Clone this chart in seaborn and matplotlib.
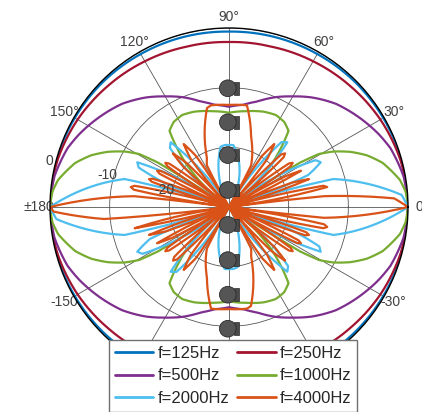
import numpy as np
import pandas as pd
import seaborn as sns
import matplotlib
matplotlib.use("Agg")
import matplotlib.pyplot as plt
from matplotlib.lines import Line2D
from matplotlib.patches import Circle, Rectangle

sns.set_theme(style="white")
plt.rcParams['font.family'] = ['Liberation Sans', 'DejaVu Sans']

# directivity, first quadrant only (deg, dB);
# the pattern is symmetric so the other quadrants are mirrored
ang_125 = [0, 15, 30, 45, 60, 75, 90]
lev_125 = [0, -0.05, -0.15, -0.25, -0.4, -0.5, -0.6]

ang_250 = [0, 15, 30, 45, 60, 75, 90]
lev_250 = [0, -0.2, -0.7, -1.3, -1.8, -2.2, -2.35]

ang_500 = [0, 10, 20, 26, 35, 44, 53, 60, 67, 75, 82, 90]
lev_500 = [0, -0.3, -1.2, -2.1, -3.6, -5.1, -7.0, -8.6, -10.0, -11.7, -12.7, -13.2]

ang_1000 = [0, 5, 9, 16, 20.5, 24.5, 28, 30.5, 32, 33.5, 37, 40, 45, 49, 52, 57, 63, 70, 80, 90]
lev_1000 = [0, -0.3, -1.0, -3.2, -5.3, -7.7, -10.2, -12.5, -16, -30, -30, -25, -20, -16.5,
            -13.8, -13.0, -12.7, -13.0, -13.7, -14.2]

ang_2000 = [0, 4, 8, 11, 13, 15, 16.6, 18,
            19.9, 22, 23.6, 26, 28.4, 30, 32.1, 34,
            38, 40.4, 43, 45, 48, 51, 53, 55.6, 58,
            60, 65, 70, 75, 80, 82, 86, 90]
lev_2000 = [0, -1, -3.9, -6.8, -9.2, -11.9, -15.3, -30,
            -19.4, -15.7, -13.5, -12.9, -13.5, -15.7, -19.4, -30,
            -30, -21.9, -18.2, -16, -15.4, -16, -18.2, -21.9, -30,
            -30, -27, -25.6, -24.2, -21.3, -19.8, -19.6, -19.6]

ang_4000 = [0, 1.5, 3, 4.5, 5.5, 6.5, 7.5,
            8.5, 9.5, 10.3, 11.5, 12.7, 13.5, 14.5, 15.5,
            16.4, 17.4, 18.1, 19.25, 20.4, 21.1, 22.1, 23,
            23.9, 24.9, 25.6, 26.75, 27.9, 28.6, 29.6, 30.5,
            31.5, 32.6, 33.5, 34.75, 36, 36.9, 38, 39,
            40.1, 41.4, 42.3, 43.75, 45.2, 46.1, 47.4, 48.5,
            49.9, 51.4, 52.5, 54.25, 56, 57.1, 58.6, 60,
            62, 66, 70, 72.5, 75, 77.5, 80, 85, 90]
lev_4000 = [0, -0.6, -2.3, -5.5, -9, -14, -30,
            -19.7, -16.0, -13.8, -13.2, -13.8, -16.0, -19.7, -30,
            -22.3, -18.6, -16.4, -15.8, -16.4, -18.6, -22.3, -30,
            -23, -19.3, -17.1, -16.5, -17.1, -19.3, -23, -30,
            -23.5, -19.8, -17.6, -17, -17.6, -19.8, -23.5, -30,
            -23.5, -19.8, -17.6, -17, -17.6, -19.8, -23.5, -30,
            -23.5, -19.8, -17.6, -17, -17.6, -19.8, -23.5, -30,
            -22.1, -20.9, -19.2, -17.7, -15.8, -13.0, -12.7, -12.8, -12.9]

freq_labels = ['f=125Hz', 'f=250Hz', 'f=500Hz', 'f=1000Hz', 'f=2000Hz', 'f=4000Hz']
colors = ['#0072BD', '#A2142F', '#7E2F8E', '#77AC30', '#4DBEEE', '#D95319']

theta_ticks = [0, 30, 60, 90, 120, 150, 180, 210, 240, 270, 300, 330]
theta_labels = ['0', '30°', '60°', '90°', '120°', '150°', '±180', '-150', '', '', '', '-30°']
r_ticks = [-20, -10, 0]

# loudspeaker positions along the vertical axis (dB units above the centre)
speaker_y = [19.9, 14.2, 8.7, 2.85, -3.0, -8.9, -14.7, -20.4]


def full_turn(ang, lev):
      a = np.asarray(ang, dtype=float)
      l = np.asarray(lev, dtype=float)
      th = np.concatenate([a, 180 - a[::-1], 180 + a, 360 - a[::-1]])
      lv = np.concatenate([l, l[::-1], l, l[::-1]])
      return np.deg2rad(th), lv


series = [(ang_125, lev_125), (ang_250, lev_250), (ang_500, lev_500),
          (ang_1000, lev_1000), (ang_2000, lev_2000), (ang_4000, lev_4000)]
frames = []
for lab, (a, l) in zip(freq_labels, series):
      th, lv = full_turn(a, l)
      frames.append(pd.DataFrame({'theta': th, 'level': lv, 'freq': lab}))
df = pd.concat(frames, ignore_index=True)

fig = plt.figure(figsize=(4.22, 4.12), dpi=100)
rect = [50 / 422, 26 / 412, 358 / 422, 358 / 412]
ax = fig.add_axes(rect, projection='polar')

sns.lineplot(data=df, x='theta', y='level', hue='freq', hue_order=freq_labels,
             palette=colors, sort=False, estimator=None, linewidth=1.6, legend=False, ax=ax)
# draw segments as polar curves rather than straight chords
for line in ax.lines:
      line.get_path()._interpolation_steps = 24

ax.set_rlim(-30, 0)
ax.set_thetagrids(theta_ticks, labels=theta_labels)
ax.set_rgrids(r_ticks, labels=['', '', ''], angle=165)
ax.grid(True, color='#555555', linewidth=0.6)
ax.spines['polar'].set_color('black')
ax.spines['polar'].set_linewidth(1.0)
ax.tick_params(axis='x', labelsize=10, labelcolor='#404040', pad=-5)
ax.set_xlabel('')
ax.set_ylabel('')
for v in r_ticks:
      ax.text(np.deg2rad(165.5), v + 1.1, str(v), fontsize=10, color='#404040',
              ha='center', va='center')

# speaker icons drawn on a cartesian overlay of the same box
ov = fig.add_axes(rect)
ov.set_xlim(-30, 30)
ov.set_ylim(-30, 30)
ov.axis('off')
for y in speaker_y:
      ov.add_patch(Rectangle((0.8, y - 1.05), 0.9, 2.1, facecolor='#4a4a4a', edgecolor='#2a2a2a', lw=0.5))
      ov.add_patch(Circle((-0.2, y), 1.4, facecolor='#555555', edgecolor='#2a2a2a', lw=0.6))

# legend filled row by row
order = [0, 2, 4, 1, 3, 5]
handles = [Line2D([], [], color=colors[i], lw=2) for i in order]
labels = [freq_labels[i] for i in order]
leg = fig.legend(handles, labels, ncol=2, loc='upper left',
                 bbox_to_anchor=(109 / 422, 1 - 340 / 412), bbox_transform=fig.transFigure,
                 fontsize=12, frameon=True, fancybox=False, edgecolor='#707070', framealpha=1,
                 borderpad=0.35, handlelength=2.3, handletextpad=0.25, columnspacing=0.5,
                 labelspacing=0.45, borderaxespad=0)
leg.get_frame().set_linewidth(1.0)

fig.savefig('out.png', dpi=100)
